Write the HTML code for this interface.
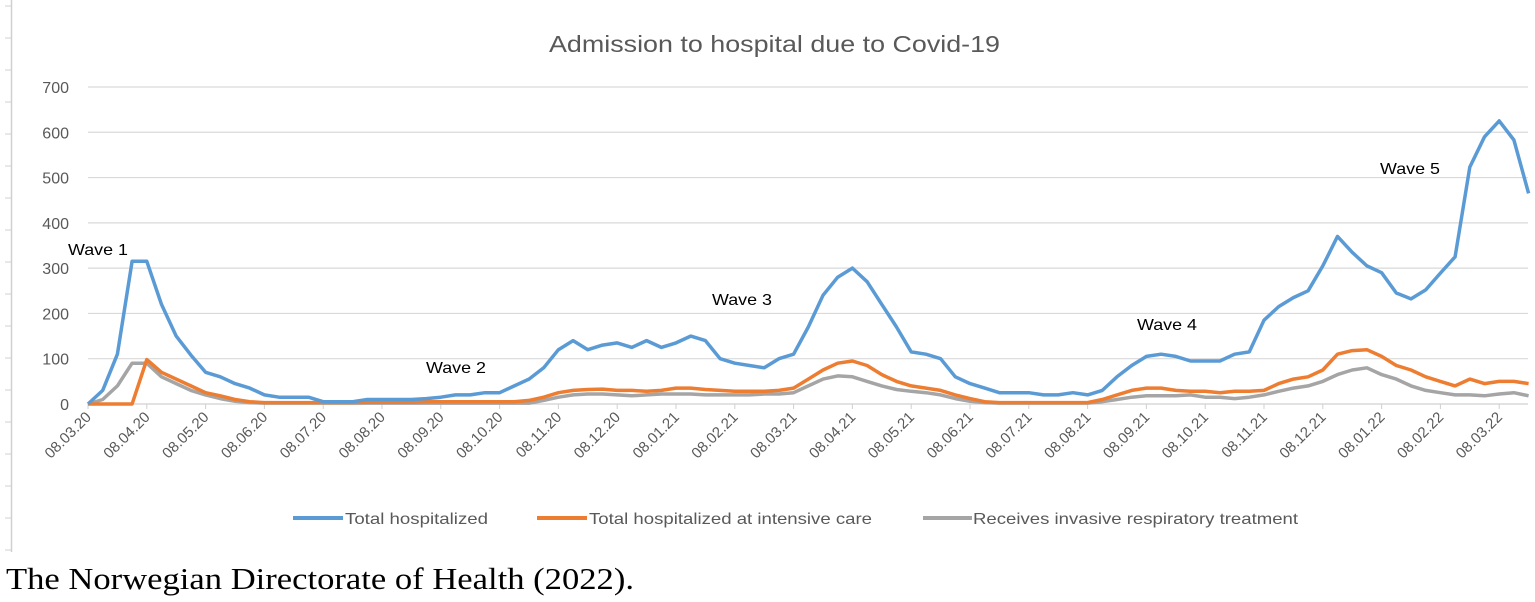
<!DOCTYPE html>
<html><head><meta charset="utf-8"><style>
html,body{margin:0;padding:0;background:#fff;}
svg{display:block;font-family:"Liberation Sans",sans-serif;}
.cap{font-family:"Liberation Serif",serif;}
</style></head><body>
<svg id="chart" width="1535" height="602" viewBox="0 0 1535 602" xmlns="http://www.w3.org/2000/svg">
<line x1="11.5" y1="0" x2="11.5" y2="552" stroke="#d0d0d0" stroke-width="1.5"/>
<g id="frameTicks"></g>
<text x="549" y="52" font-size="23" fill="#595959" textLength="451" lengthAdjust="spacingAndGlyphs">Admission to hospital due to Covid-19</text>
<g id="grid"></g>
<g id="yticks"></g>
<g id="xticks"></g>
<g id="series"></g>
<g font-size="16" fill="#000">
<text x="68" y="255" textLength="60" lengthAdjust="spacingAndGlyphs">Wave 1</text>
<text x="426" y="373" textLength="60" lengthAdjust="spacingAndGlyphs">Wave 2</text>
<text x="712" y="305" textLength="60" lengthAdjust="spacingAndGlyphs">Wave 3</text>
<text x="1137" y="330" textLength="60" lengthAdjust="spacingAndGlyphs">Wave 4</text>
<text x="1380" y="174" textLength="60" lengthAdjust="spacingAndGlyphs">Wave 5</text>
</g>
<g font-size="16" fill="#595959">
<g><line x1="293" y1="518" x2="343" y2="518" stroke="#5b9bd5" stroke-width="4"/><text x="345" y="524" textLength="143" lengthAdjust="spacingAndGlyphs">Total hospitalized</text></g>
<g><line x1="537" y1="518" x2="587" y2="518" stroke="#ed7d31" stroke-width="4"/><text x="589" y="524" textLength="283" lengthAdjust="spacingAndGlyphs">Total hospitalized at intensive care</text></g>
<g><line x1="923" y1="518" x2="972" y2="518" stroke="#a5a5a5" stroke-width="4"/><text x="973" y="524" textLength="325" lengthAdjust="spacingAndGlyphs">Receives invasive respiratory treatment</text></g>
</g>
<text class="cap" x="6" y="589" font-size="31" fill="#000" textLength="628" lengthAdjust="spacingAndGlyphs">The Norwegian Directorate of Health (2022).</text>
</svg>
<script>
const xLabels=["08.03.20","08.04.20","08.05.20","08.06.20","08.07.20","08.08.20","08.09.20","08.10.20","08.11.20","08.12.20","08.01.21","08.02.21","08.03.21","08.04.21","08.05.21","08.06.21","08.07.21","08.08.21","08.09.21","08.10.21","08.11.21","08.12.21","08.01.22","08.02.22","08.03.22"];
const yTicks=[0,100,200,300,400,500,600,700];
// values sampled every quarter month starting 08.03.20
const totalHosp=[0,30,110,315,315,220,150,108,70,60,45,35,20,15,15,15,5,5,5,10,10,10,10,12,15,20,20,25,25,40,55,80,120,140,120,130,135,125,140,125,135,150,140,100,90,85,80,100,110,170,240,280,300,270,220,170,115,110,100,60,45,35,25,25,25,20,20,25,20,30,60,85,105,110,105,95,95,95,110,115,185,215,235,250,305,370,335,305,290,245,232,252,289,325,523,590,625,583,465];
const icu=[0,0,0,0,98,70,55,40,25,18,10,5,3,3,3,3,3,3,3,4,4,4,4,5,5,5,5,5,5,5,8,15,25,30,32,33,30,30,28,30,35,35,32,30,28,28,28,30,35,55,75,90,95,85,65,50,40,35,30,20,12,5,3,3,3,3,3,3,3,10,20,30,35,35,30,28,28,25,28,28,30,45,55,60,75,110,118,120,105,85,75,60,50,40,55,45,50,50,45];
const ventilator=[0,10,40,90,90,60,45,30,20,12,6,3,2,2,2,2,2,2,2,2,2,2,2,2,2,2,2,2,2,2,2,8,15,20,22,22,20,18,20,22,22,22,20,20,20,20,22,22,25,40,55,62,60,50,40,32,28,25,20,12,6,3,2,2,2,2,2,2,2,5,10,15,18,18,18,20,15,15,12,15,20,28,35,40,50,65,75,80,65,55,40,30,25,20,20,18,22,25,18];
const STEP=0.25;
const NS="http://www.w3.org/2000/svg";
const X0=88,PXM=58.8,Y0=404,PXV=0.4529,XEND=1528;
const xs=m=>X0+m*PXM;
const ys=v=>Y0-v*PXV;
function mk(tag,attrs,parent){const e=document.createElementNS(NS,tag);for(const k in attrs)e.setAttribute(k,attrs[k]);parent.appendChild(e);return e;}
const ft=document.getElementById('frameTicks');
for(let y=6;y<552;y+=32){const t=mk('line',{x1:5,y1:y,x2:11,y2:y,stroke:'#d0d0d0','stroke-width':1},ft);

}
const g=document.getElementById('grid'),yt=document.getElementById('yticks');
yTicks.forEach(v=>{
 const l=mk('line',{x1:X0,y1:ys(v),x2:XEND,y2:ys(v),stroke:v===0?'#d0d0d0':'#d9d9d9','stroke-width':1.2},g);
 
 
 const t=mk('text',{x:69,y:ys(v)+6,'text-anchor':'end','font-size':16,fill:'#595959'},yt);
 t.textContent=v;
 
 
});
const xt=document.getElementById('xticks');
xLabels.forEach((lab,i)=>{
 const x=xs(i);
 const tk=mk('line',{x1:x,y1:Y0,x2:x,y2:Y0+5,stroke:'#d0d0d0','stroke-width':1},xt);
 
 
 const t=mk('text',{x:x+4,y:Y0+14,'text-anchor':'end','font-size':15,fill:'#595959',transform:`rotate(-45 ${x+4} ${Y0+14})`},xt);
 t.textContent=lab;
 
 
});
const sg=document.getElementById('series');
[[ventilator,'#a5a5a5','line-ventilator'],[icu,'#ed7d31','line-icu'],[totalHosp,'#5b9bd5','line-total-hospitalized']].forEach(([arr,c,n])=>{
 const d=arr.map((v,i)=>(i?'L':'M')+xs(i*STEP).toFixed(1)+' '+ys(v).toFixed(1)).join(' ');
 const p=mk('path',{d:d,fill:'none',stroke:c,'stroke-width':3.5,'stroke-linejoin':'round'},sg);
 
 
});
</script>
</body></html>
